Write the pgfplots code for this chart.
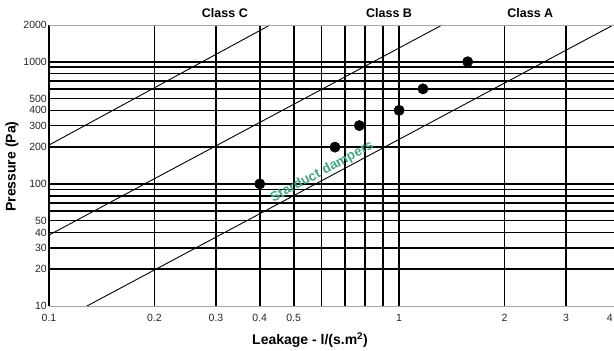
\documentclass[border=0pt]{standalone}
\usepackage{pgfplots}
\pgfplotsset{compat=1.18}
\usepackage{fontspec}
\setmainfont{Liberation Sans}
\definecolor{tealtext}{RGB}{72,164,132}
\begin{document}
\begin{tikzpicture}
\begin{axis}[
  at={(0,0)}, anchor=south west,
  scale only axis, width=565pt, height=281pt,
  xmode=log, ymode=log,
  xmin=0.1, xmax=4.11, ymin=10, ymax=2000,
  clip=false,
  axis line style={draw=none},
  xtick={0.1,0.2,0.3,0.4,0.5,1,2,3,4},
  xticklabels={0.1,0.2,0.3,0.4,0.5,1,2,3,4},
  ytick={10,20,30,40,50,100,200,300,400,500,1000,2000},
  yticklabels={10,20,30,40,50,100,200,300,400,500,1000,2000},
  minor xtick={}, minor ytick={},
  major tick length=0pt,
  tick style={draw=none},
  extra x ticks={0.2,0.3,0.4,0.5,0.6,0.7,0.8,0.9,1,2,3},
  extra x tick labels={},
  extra y ticks={20,30,40,50,60,70,80,90,100,200,300,400,500,600,700,800,900,1000},
  extra y tick labels={},
  extra tick style={grid=major, major grid style={black, line width=1.7pt}},
  ticklabel style={font=\fontsize{10.5}{12}\selectfont, text=black!85},
  /pgf/number format/assume math mode=true,
  xticklabel style={yshift=-5pt},
  yticklabel style={inner sep=2pt},
]
\addplot[black, line width=0.9pt] coordinates {(0.1,208) (0.428,2000)};
\addplot[black, line width=0.9pt] coordinates {(0.1,38.1) (1.327,2000)};
\addplot[black, line width=0.9pt] coordinates {(0.1284,10) (4.09,2000)};
\addplot[only marks, mark=*, mark size=5.2pt, black] coordinates {(0.4,100) (0.656,200) (0.77,300) (1,400) (1.17,600) (1.57,1000)};
\draw[black, line width=2pt] (rel axis cs:0,0) -- (rel axis cs:0,1);
\draw[gray!70, line width=1pt] (rel axis cs:0,1) -- (rel axis cs:1,1);
\draw[gray!70, line width=0.8pt] (rel axis cs:0,0) -- (rel axis cs:1,0);
\node[font=\bfseries\fontsize{12.5}{14}\selectfont] at (axis cs:0.318,2000) [yshift=12pt] {Class C};
\node[font=\bfseries\fontsize{12.5}{14}\selectfont] at (axis cs:0.936,2000) [yshift=12pt] {Class B};
\node[font=\bfseries\fontsize{12.5}{14}\selectfont] at (axis cs:2.37,2000) [yshift=12pt] {Class A};
\node[rotate=28.3, text=tealtext, font=\bfseries\fontsize{13.5}{14}\selectfont] at (axis cs:0.603,125) {Starduct dampers};
\node[font=\bfseries\fontsize{14}{16}\selectfont] at (rel axis cs:0.462,0) [yshift=-34pt] {Leakage - l/(s.m\textsuperscript{2})};
\node[xshift=-37pt, rotate=90, font=\bfseries\fontsize{14}{16}\selectfont] at (rel axis cs:0,0.496) {Pressure (Pa)};
\end{axis}
\pgfresetboundingbox
\path (-49pt,-45pt) rectangle (565pt,306pt);
\end{tikzpicture}
\end{document}
